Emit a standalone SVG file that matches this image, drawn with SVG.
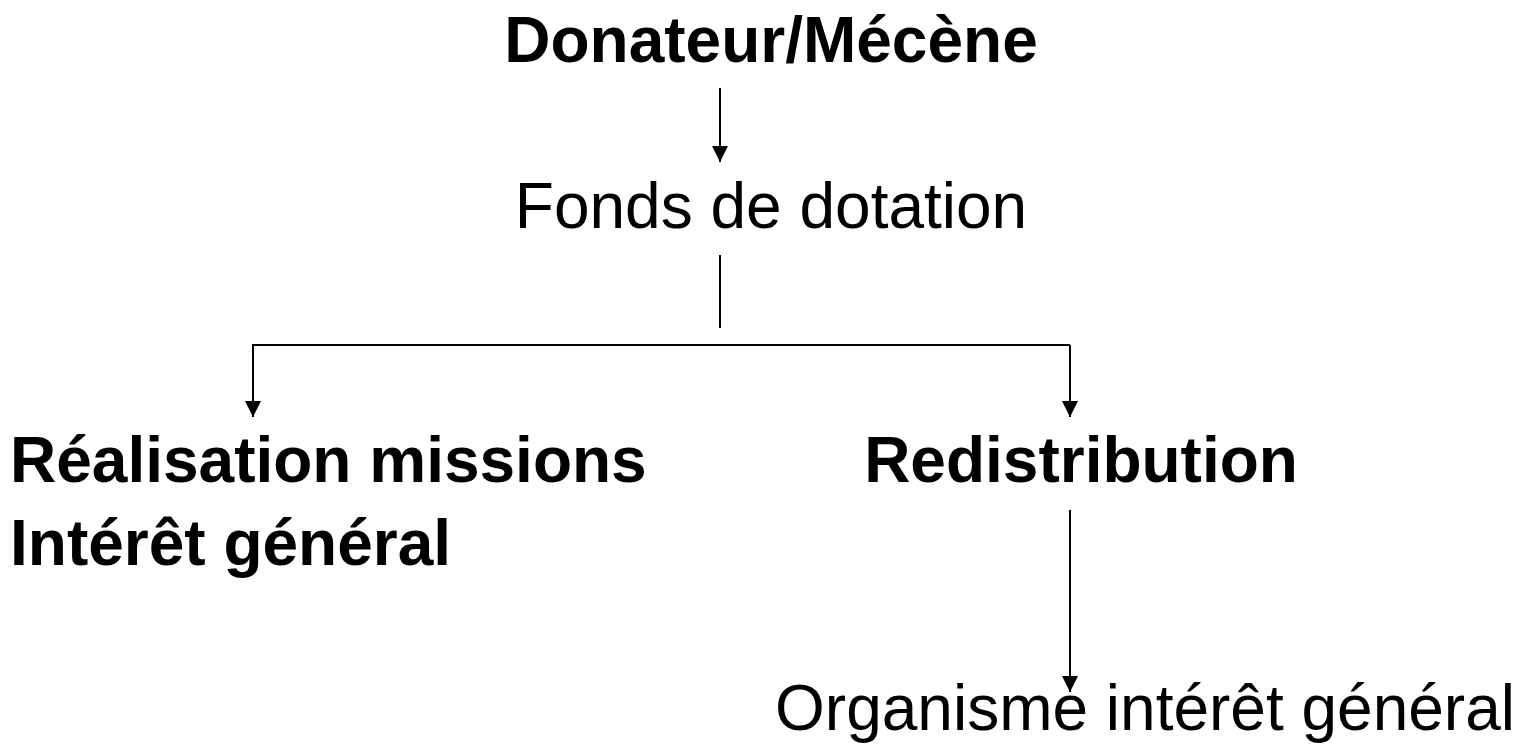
<svg xmlns="http://www.w3.org/2000/svg" width="1524" height="747" viewBox="0 0 1524 747">
<style>
.b{font-family:"Liberation Sans",Arial,sans-serif;font-weight:bold;font-size:64px;fill:#000}
.r{font-family:"Liberation Sans",Arial,sans-serif;font-size:64px;fill:#000}
.c{stroke:#000;stroke-width:2;fill:none}
</style>
<defs>
<marker id="a" markerUnits="userSpaceOnUse" markerWidth="16" markerHeight="16" refX="16" refY="8" orient="auto" viewBox="0 0 16 16">
<path d="M0,0 L16,8 L0,16 Z" fill="#000"/>
</marker>
</defs>
<g id="n1"><text class="b" x="771" y="62" text-anchor="middle">Donateur/Mécène</text></g>
<g id="n2"><text class="r" x="771" y="228" text-anchor="middle">Fonds de dotation</text></g>
<g id="n3"><text class="b" x="10" y="482">Réalisation missions</text><text class="b" x="10" y="565">Intérêt général</text></g>
<g id="n4"><text class="b" x="1081" y="482" text-anchor="middle">Redistribution</text></g>
<g id="n5"><text class="r" x="1145" y="730" text-anchor="middle">Organisme intérêt général</text></g>
<g id="connectors">
<line class="c" x1="720" y1="88" x2="720" y2="162" marker-end="url(#a)"/>
<polyline class="c" points="720,255 720,328"/>
<polyline class="c" points="1070,345 253,345 253,417" marker-end="url(#a)"/>
<line class="c" x1="1070" y1="345" x2="1070" y2="417" marker-end="url(#a)"/>
<line class="c" x1="1070" y1="510" x2="1070" y2="692" marker-end="url(#a)"/>
</g>
</svg>
